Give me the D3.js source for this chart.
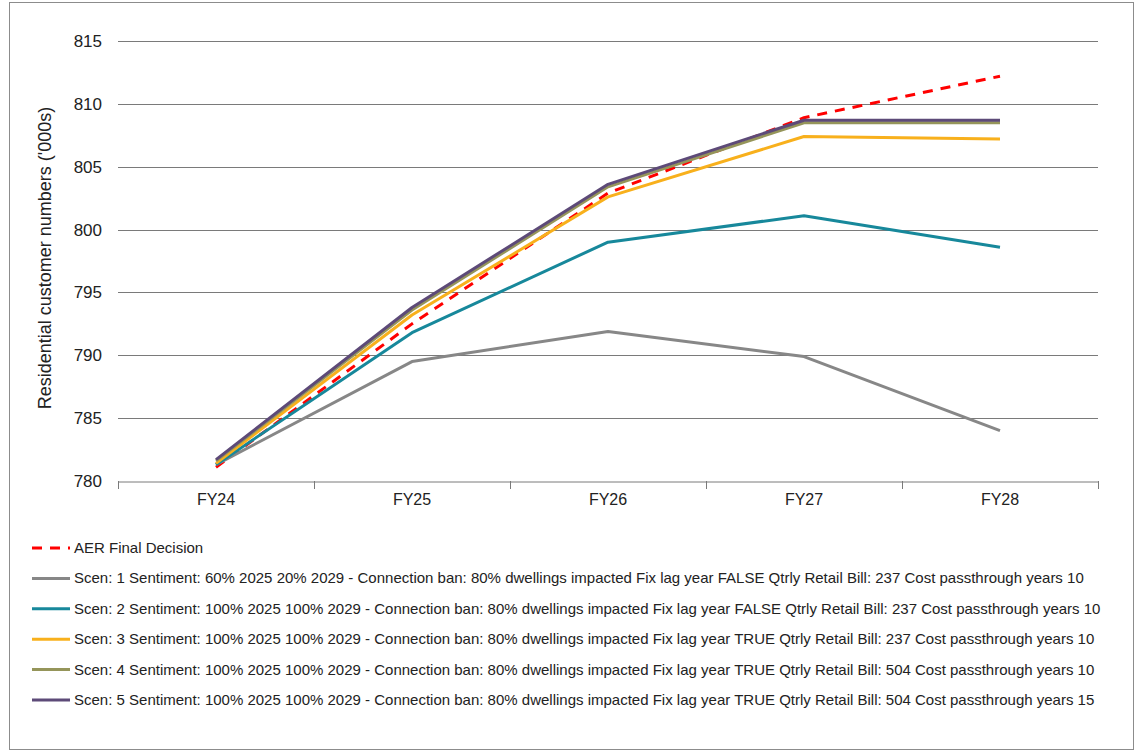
<!DOCTYPE html>
<html><head><meta charset="utf-8">
<script src="https://cdn.jsdelivr.net/npm/d3@7"></script>
<style>body{margin:0;background:#fff;}svg{display:block;font-family:"Liberation Sans",Arial,sans-serif;}</style>
</head><body>
<script>
const categories = ["FY24","FY25","FY26","FY27","FY28"];
const yTicks = [780,785,790,795,800,805,810,815];
const seriesNames = [
  "AER Final Decision",
  "Scen: 1 Sentiment: 60% 2025 20% 2029 - Connection ban: 80% dwellings impacted Fix lag year FALSE Qtrly Retail Bill: 237 Cost passthrough years 10",
  "Scen: 2 Sentiment: 100% 2025 100% 2029 - Connection ban: 80% dwellings impacted Fix lag year FALSE Qtrly Retail Bill: 237 Cost passthrough years 10",
  "Scen: 3 Sentiment: 100% 2025 100% 2029 - Connection ban: 80% dwellings impacted Fix lag year TRUE Qtrly Retail Bill: 237 Cost passthrough years 10",
  "Scen: 4 Sentiment: 100% 2025 100% 2029 - Connection ban: 80% dwellings impacted Fix lag year TRUE Qtrly Retail Bill: 504 Cost passthrough years 10",
  "Scen: 5 Sentiment: 100% 2025 100% 2029 - Connection ban: 80% dwellings impacted Fix lag year TRUE Qtrly Retail Bill: 504 Cost passthrough years 15"
];
const aer   = [781.1, 792.5, 802.9, 808.9, 812.2];
const scen1 = [781.3, 789.5, 791.9, 789.9, 784.0];
const scen2 = [781.3, 791.8, 799.0, 801.1, 798.6];
const scen3 = [781.4, 793.2, 802.6, 807.4, 807.2];
const scen4 = [781.6, 793.6, 803.4, 808.5, 808.5];
const scen5 = [781.7, 793.8, 803.6, 808.7, 808.7];
const colors = ["#ff0000","#878787","#17889b","#f8b01c","#95955a","#5d4a78"];
const allSeries = [aer, scen1, scen2, scen3, scen4, scen5];

const W = 1135, H = 751;
const svg = d3.select("body").append("svg").attr("width", W).attr("height", H);

svg.append("rect").attr("x",9.5).attr("y",2.5).attr("width",W-11).attr("height",H-4)
  .attr("fill","none").attr("stroke","#8c8c8c").attr("stroke-width",1);

const x = d3.scaleBand().domain(categories).range([118, 1098]);
const y = d3.scaleLinear().domain([780, 815]).range([481, 41]);

// gridlines
svg.append("g").selectAll("line").data(yTicks.filter(t => t !== 780)).join("line")
  .attr("x1",118).attr("x2",1098)
  .attr("y1",d=>Math.round(y(d))+0.5).attr("y2",d=>Math.round(y(d))+0.5)
  .attr("stroke","#7a7a7a").attr("stroke-width",1);

// y labels
svg.append("g").selectAll("text").data(yTicks).join("text")
  .attr("x",102).attr("y",d=>y(d)+6).attr("text-anchor","end")
  .attr("font-size",17).attr("fill","#222").text(d=>d);

// x axis
const xAxis = d3.axisBottom(x).tickSize(0).tickPadding(12);
const gx = svg.append("g").attr("transform","translate(0,481.5)").call(xAxis);
gx.select(".domain").attr("stroke","#7a7a7a");
gx.selectAll("text").attr("font-size",16).attr("fill","#222").attr("font-family","Liberation Sans, Arial, sans-serif");
const bounds = categories.map(c => x(c)).concat([x.range()[1]]);
svg.append("g").selectAll("line").data(bounds).join("line")
  .attr("x1",d=>Math.round(d)+0.5).attr("x2",d=>Math.round(d)+0.5)
  .attr("y1",481).attr("y2",489).attr("stroke","#7a7a7a");

// y title
svg.append("text").attr("transform","translate(51,258) rotate(-90)")
  .attr("text-anchor","middle").attr("font-size",18).attr("fill","#222")
  .text("Residential customer numbers ('000s)");

const line = d3.line().x((d,i)=>x(categories[i]) + x.bandwidth()/2).y(d=>y(d));
allSeries.forEach((s, i) => {
  svg.append("path").datum(s).attr("d", line)
    .attr("fill","none").attr("stroke",colors[i])
    .attr("stroke-width", 3)
    .attr("stroke-linejoin","round")
    .attr("stroke-dasharray", i === 0 ? "10,8" : null);
});

// legend
const lg = svg.append("g");
seriesNames.forEach((n, i) => {
  const yy = 548 + i * 30.4;
  lg.append("line").attr("x1",32).attr("x2",70).attr("y1",yy).attr("y2",yy)
    .attr("stroke",colors[i]).attr("stroke-width",3)
    .attr("stroke-dasharray", i === 0 ? "10,8" : null);
  lg.append("text").attr("x",74).attr("y",yy+5).attr("font-size",15).attr("fill","#222").text(n);
});
</script>
</body></html>
